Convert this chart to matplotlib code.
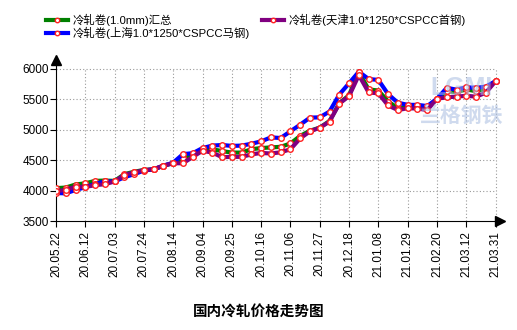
import numpy as np
import matplotlib
matplotlib.use("Agg")
import matplotlib.pyplot as plt

plt.rcParams['font.family'] = ['Liberation Sans', 'Noto Sans CJK SC', 'DejaVu Sans']

# weekly prices, 46 points from 20.05.22 to 21.03.31
dates = ["20.05.22", "20.06.12", "20.07.03", "20.07.24", "20.08.14", "20.09.04",
         "20.09.25", "20.10.16", "20.11.06", "20.11.27", "20.12.18", "21.01.08",
         "21.01.29", "21.02.20", "21.03.12", "21.03.31"]

total = [4040, 4050, 4100, 4120, 4160, 4165, 4160, 4270, 4310, 4340,
         4350, 4410, 4450, 4540, 4570, 4685, 4680, 4650, 4625, 4625,
         4680, 4700, 4710, 4720, 4775, 4900, 4985, 5035, 5145, 5435,
         5570, 5950, 5665, 5645, 5465, 5355, 5380, 5380, 5365, 5510,
         5635, 5620, 5665, 5635, 5675, 5800]

shanghai = [3960, 3955, 4010, 4055, 4110, 4150, 4150, 4220, 4270, 4330,
            4350, 4410, 4460, 4600, 4615, 4700, 4740, 4750, 4735, 4740,
            4770, 4810, 4875, 4865, 4975, 5085, 5200, 5205, 5300, 5580,
            5765, 5955, 5835, 5820, 5585, 5445, 5410, 5410, 5390, 5510,
            5690, 5660, 5700, 5690, 5710, 5800]

tianjin = [3990, 4010, 4065, 4060, 4090, 4105, 4150, 4260, 4300, 4335,
           4350, 4410, 4450, 4450, 4555, 4655, 4625, 4550, 4555, 4555,
           4595, 4620, 4610, 4630, 4680, 4860, 4975, 5035, 5135, 5430,
           5555, 5900, 5615, 5600, 5400, 5325, 5355, 5350, 5325, 5510,
           5535, 5545, 5560, 5545, 5610, 5800]

labels = ["冷轧卷(1.0mm)汇总",
          "冷轧卷(上海1.0*1250*CSPCC马钢)",
          "冷轧卷(天津1.0*1250*CSPCC首钢)"]
colors = ["#008000", "#0000ff", "#800080"]

x = np.arange(len(total))
tick_pos = x[::3]

fig = plt.figure(figsize=(5.17, 3.30), dpi=100)
ax = fig.add_axes([56 / 517, 1 - 221 / 330, 444 / 517, 161 / 330])

# watermark
fig.text(462 / 517, 1 - 88 / 330, "LGMI", fontsize=18, color="#a9bde0",
         ha="center", va="center", alpha=0.55, fontweight="bold", zorder=0)
fig.text(462 / 517, 1 - 117 / 330, "兰格钢铁", fontsize=15, color="#a9bde0",
         ha="center", va="center", alpha=0.55, fontweight="bold", zorder=0)
ax.patch.set_alpha(0)

yticks = [3500, 4000, 4500, 5000, 5500, 6000]
ax.hlines(yticks[1:], 0, 45, colors="#999999", linestyles=(0, (1, 2)), lw=0.8, zorder=1)
ax.vlines(tick_pos[1:], 3500, 6000, colors="#999999", linestyles=(0, (1, 2)), lw=0.8, zorder=1)

for series, c, lab in zip([total, shanghai, tianjin], colors, labels):
    ax.plot(x, series, color=c, lw=3, label=lab, zorder=3,
            marker="o", ms=4, mfc="white", mec="#ff2020", mew=1)

ax.set_xlim(0, 45.45)
ax.set_ylim(3500, 6148)
ax.set_yticks(yticks)
ax.set_xticks(tick_pos)
ax.set_xticklabels(dates, rotation=90, fontsize=8.5)
ax.tick_params(axis="y", labelsize=8.5, length=4, pad=1)
ax.tick_params(axis="x", length=4, pad=3)
ax.spines["top"].set_visible(False)
ax.spines["right"].set_visible(False)

# axis arrows
ax.plot([0], [1], marker="^", color="black", ms=7, transform=ax.transAxes, clip_on=False)
ax.plot([1], [0], marker=">", color="black", ms=7, transform=ax.transAxes, clip_on=False)

fig.legend(loc="upper left", bbox_to_anchor=(40 / 517, 1 - 8 / 330), ncol=2,
           frameon=False, fontsize=8.2, handlelength=2.0, handletextpad=0.4,
           columnspacing=1.0, labelspacing=0.12, borderpad=0, numpoints=1,
           markerscale=0.8)

fig.text(259 / 517, 1 - 312 / 330, "国内冷轧价格走势图", fontsize=10.5,
         fontweight="bold", ha="center", va="center",
         family=["Noto Sans CJK SC"])

fig.savefig("out.png", dpi=100)
